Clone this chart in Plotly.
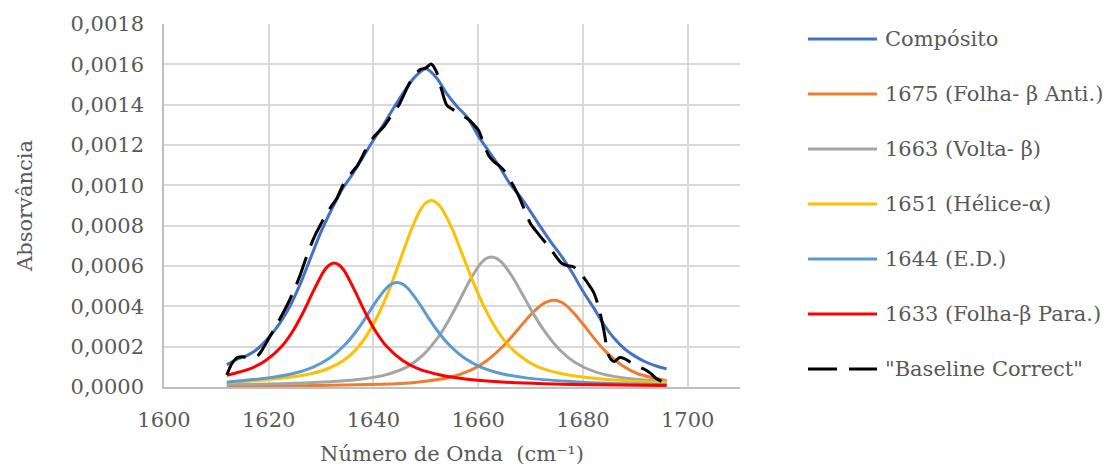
import plotly.graph_objects as go

# ---- composite band (cm-1, absorbance) ----
wn_comp = list(range(1612, 1697, 2))
abs_comp = [0.000110, 0.000138, 0.000158, 0.000192, 0.000245, 0.000312, 0.000398, 0.000510,
            0.000640, 0.000770, 0.000880, 0.000980, 0.001055, 0.001140, 0.001225, 0.001305,
            0.001390, 0.001470, 0.001540, 0.001578, 0.001535, 0.001455, 0.001390, 0.001335,
            0.001245, 0.001170, 0.001095, 0.001010, 0.000945, 0.000870, 0.000790, 0.000715,
            0.000645, 0.000565, 0.000475, 0.000395, 0.000310, 0.000240, 0.000188, 0.000152,
            0.000124, 0.000104, 0.000090]

# ---- fitted component bands ----
wn_1675 = [1612, 1624.5, 1634.5, 1644.5, 1649.5, 1654.5, 1658.5, 1661.5, 1664.5, 1666.5, 1668.5,
           1670.5, 1672.5, 1673.5, 1674.5, 1675.5, 1676.5, 1678.5, 1680.5, 1682.5, 1684.5,
           1687.5, 1690.5, 1696]
abs_1675 = [0.000004, 0.000006, 0.000010, 0.0000159, 0.0000275, 0.0000473, 0.0000821, 0.000128,
            0.000196, 0.000252, 0.000313, 0.000371, 0.000414, 0.000426, 0.000430, 0.000425,
            0.000411, 0.000360, 0.000296, 0.000230, 0.000172, 0.000107, 0.0000658, 0.0000316]

wn_1663 = [1612, 1622.5, 1630.5, 1637.5, 1642.5, 1646.5, 1649.5, 1652.5, 1654.5, 1656.5, 1658.5,
           1660.5, 1661.5, 1662.5, 1663.5, 1664.5, 1666.5, 1668.5, 1670.5, 1672.5, 1675.5,
           1678.5, 1682.5, 1687.5, 1696]
abs_1663 = [0.000013, 0.000016, 0.0000245, 0.0000387, 0.0000613, 0.000101, 0.000159, 0.000252,
            0.000336, 0.000433, 0.000533, 0.000613, 0.000637, 0.000645, 0.000638, 0.000618,
            0.000548, 0.000457, 0.000365, 0.000283, 0.000186, 0.000122, 0.0000735, 0.0000458,
            0.000026]

wn_1651 = [1612, 1619, 1626, 1631, 1635, 1638, 1641, 1643, 1645, 1647, 1649, 1650, 1651, 1652,
           1653, 1655, 1657, 1659, 1661, 1664, 1667, 1671, 1676, 1683, 1689, 1696]
abs_1651 = [0.000022, 0.0000352, 0.0000555, 0.000088, 0.000145, 0.000228, 0.000362, 0.000482,
            0.000622, 0.000765, 0.000880, 0.000913, 0.000925, 0.000915, 0.000886, 0.000786,
            0.000656, 0.000524, 0.000405, 0.000266, 0.000175, 0.000105, 0.0000657, 0.0000407,
            0.0000296, 0.0000213]

wn_1644 = [1612, 1619.5, 1624.5, 1628.5, 1631.5, 1634.5, 1636.5, 1638.5, 1640.5, 1642.5, 1643.5,
           1644.5, 1645.5, 1646.5, 1648.5, 1650.5, 1652.5, 1654.5, 1657.5, 1660.5, 1664.5,
           1669.5, 1677, 1684.5, 1696]
abs_1644 = [0.000024, 0.000044, 0.000066, 0.000099, 0.000141, 0.000208, 0.000269, 0.000343,
            0.000424, 0.000491, 0.000511, 0.000518, 0.000511, 0.000491, 0.000424, 0.000343,
            0.000269, 0.000208, 0.000141, 0.000099, 0.000066, 0.000044, 0.000028, 0.000018,
            0.000011]

wn_1633 = [1612, 1616.5, 1619.5, 1622.5, 1624.5, 1626.5, 1628.5, 1630.5, 1631.5, 1632.5, 1633.5,
           1634.5, 1636.5, 1638.5, 1640.5, 1642.5, 1645.5, 1648.5, 1653, 1657.5, 1664.5, 1672.5,
           1682.5, 1696]
abs_1633 = [0.000058, 0.000091, 0.000133, 0.000202, 0.000273, 0.000366, 0.000474, 0.000573,
            0.000604, 0.000615, 0.000604, 0.000573, 0.000474, 0.000366, 0.000273, 0.000202,
            0.000133, 0.000091, 0.000058, 0.000040, 0.000025, 0.000016, 0.000011, 0.000007]

# ---- measured spectrum after baseline correction ----
wn_base = list(range(1612, 1696))
abs_base = [0.000060, 0.000118, 0.000146, 0.000150, 0.000146, 0.000147, 0.000158, 0.000195,
            0.000240, 0.000285, 0.000332, 0.000380, 0.000432, 0.000490, 0.000555, 0.000630,
            0.000700, 0.000760, 0.000810, 0.000858, 0.000898, 0.000935, 0.000992, 0.001035,
            0.001068, 0.001100, 0.001150, 0.001200, 0.001238, 0.001265, 0.001292, 0.001330,
            0.001368, 0.001405, 0.001460, 0.001512, 0.001552, 0.001575, 0.001582, 0.001602,
            0.001565, 0.001475, 0.001398, 0.001378, 0.001362, 0.001346, 0.001330, 0.001305,
            0.001275, 0.001212, 0.001148, 0.001118, 0.001098, 0.001072, 0.001030, 0.000985,
            0.000932, 0.000868, 0.000810, 0.000775, 0.000742, 0.000712, 0.000678, 0.000642,
            0.000612, 0.000602, 0.000598, 0.000580, 0.000548, 0.000512, 0.000472, 0.000398,
            0.000280, 0.000152, 0.000126, 0.000146, 0.000140, 0.000124, 0.000110, 0.000097,
            0.000084, 0.000066, 0.000042, 0.000028]

series_names = ["Compósito", "1675 (Folha- β Anti.)", "1663 (Volta- β)", "1651 (Hélice-α)",
                "1644 (E.D.)", "1633 (Folha-β Para.)", "\"Baseline Correct\""]
x_ticks = [1600, 1620, 1640, 1660, 1680, 1700]

FONT = "Georgia, 'DejaVu Serif', serif"
TXT = "#595959"
FS = 21
colors = ["#4472C4", "#ED7D31", "#A5A5A5", "#FFC000", "#5B9BD5", "#FF0000", "#000000"]
dashes = ["solid"] * 6 + ["29px,12px"]

data = [(wn_comp, abs_comp), (wn_1675, abs_1675), (wn_1663, abs_1663), (wn_1651, abs_1651),
        (wn_1644, abs_1644), (wn_1633, abs_1633), (wn_base, abs_base)]

fig = go.Figure()
for (xs, ys), name, col, dsh in zip(data, series_names, colors, dashes):
    fig.add_trace(go.Scatter(
        x=xs, y=ys, name=name, mode="lines",
        line=dict(color=col, width=3, dash=dsh, shape="spline", smoothing=0.8),
        showlegend=False,
    ))

# legend drawn at the right: sample line + label per series
L, T, PW, PH = 164, 24, 576, 363
legend_top = 39
legend_step = 55
for i, (name, col, dsh) in enumerate(zip(series_names, colors, dashes)):
    py = legend_top + i * legend_step
    yp = (T + PH - py) / PH
    fig.add_shape(type="line", xref="paper", yref="paper",
                  x0=(808 - L) / PW, x1=(877 - L) / PW, y0=yp, y1=yp,
                  line=dict(color=col, width=3, dash=dsh))
    fig.add_annotation(xref="paper", yref="paper", x=(883 - L) / PW, y=yp,
                       text=name, showarrow=False, xanchor="left", yanchor="middle",
                       font=dict(family=FONT, size=FS, color=TXT))

fig.update_layout(
    width=1106, height=466,
    margin=dict(l=L, r=1106 - L - PW, t=T, b=466 - T - PH),
    paper_bgcolor="white", plot_bgcolor="white",
    separators=",.",
    font=dict(family=FONT, size=FS, color=TXT),
)
fig.update_xaxes(
    range=[1600, 1710], tickvals=x_ticks, ticktext=[str(v) for v in x_ticks],
    showgrid=True, gridcolor="#D9D9D9", gridwidth=1.5,
    showline=True, linecolor="#BFBFBF", linewidth=1.5, zeroline=False,
    ticks="", ticklabelstandoff=13, automargin=False,
    title=dict(text="Número de Onda  (cm⁻¹)", standoff=15,
               font=dict(family=FONT, size=FS, color=TXT)),
)
fig.update_yaxes(
    range=[0, 0.0018], dtick=0.0002, tickformat=".4f",
    showgrid=True, gridcolor="#D9D9D9", gridwidth=1.5,
    showline=True, linecolor="#BFBFBF", linewidth=1.5, zeroline=False,
    ticks="", ticklabelstandoff=14, automargin=False,
    title=dict(text="Absorvância", standoff=32,
               font=dict(family=FONT, size=FS, color=TXT)),
)

fig.write_html("out.html")
